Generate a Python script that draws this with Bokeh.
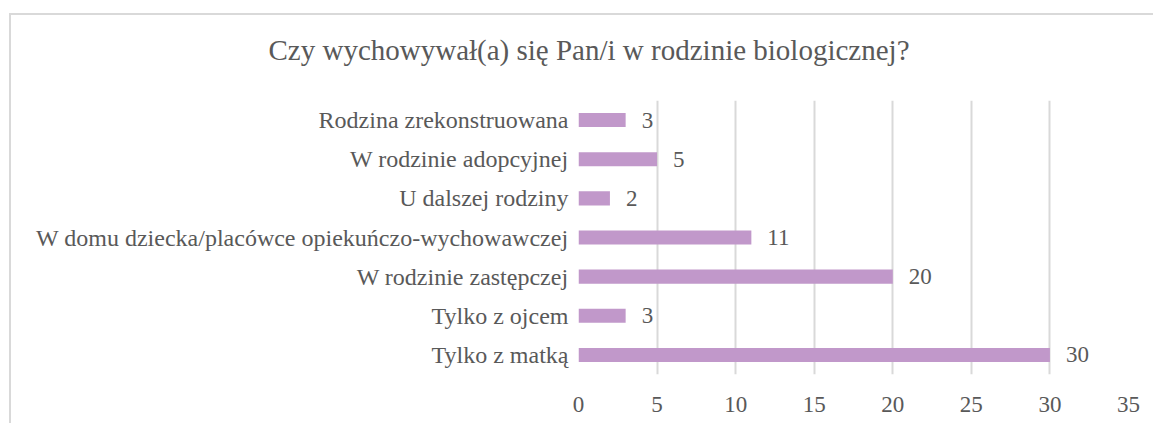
from bokeh.plotting import figure
from bokeh.models import ColumnDataSource, LabelSet, FixedTicker, Title
from bokeh.embed import file_html
from bokeh.resources import INLINE

categories = [
    "Tylko z matką",
    "Tylko z ojcem",
    "W rodzinie zastępczej",
    "W domu dziecka/placówce opiekuńczo-wychowawczej",
    "U dalszej rodziny",
    "W rodzinie adopcyjnej",
    "Rodzina zrekonstruowana",
]
values = [30, 3, 20, 11, 2, 5, 3]
x_ticks = [0, 5, 10, 15, 20, 25, 30, 35]
title_text = "Czy wychowywał(a) się Pan/i w rodzinie biologicznej?"

FONT = "Liberation Serif"
TXT = "#595959"
GRID = "#D9D9D9"
BAR = "#C198CA"

src = ColumnDataSource(dict(cat=categories, val=values, lab=[str(v) for v in values]))

p = figure(
    width=1144, height=410,
    y_range=categories, x_range=(0, 35),
    output_backend="svg", toolbar_location=None,
    min_border_left=567, min_border_right=27, min_border_top=85, min_border_bottom=51,
)
p.styles = {
    "border-top": "2px solid #D9D9D9",
    "border-left": "2px solid #D9D9D9",
    "margin-left": "9px",
    "margin-top": "13px",
}
p.outline_line_color = None
p.background_fill_color = "white"
p.border_fill_color = "white"

p.hbar(y="cat", right="val", left=0, height=0.36, source=src,
       fill_color=BAR, line_color=None)

labels = LabelSet(x="val", y="cat", text="lab", source=src, x_offset=16,
                  text_align="left", text_baseline="middle",
                  text_font=FONT, text_font_size="23px", text_color=TXT)
p.add_layout(labels)

# spacer panel between the frame and the title
spacer = Title(text=" ", text_font_size="2px", text_color="white", standoff=26)
p.add_layout(spacer, "above")

p.title.text = title_text
p.title.align = "left"
p.title.offset = -310
p.title.standoff = 10
p.title.text_font = FONT
p.title.text_font_size = "29px"
p.title.text_font_style = "normal"
p.title.text_color = TXT

p.xaxis.ticker = FixedTicker(ticks=x_ticks)
p.xaxis.axis_line_color = None
p.xaxis.major_tick_line_color = None
p.xaxis.major_tick_out = 0
p.xaxis.major_tick_in = 0
p.xaxis.minor_tick_line_color = None
p.xaxis.major_label_standoff = 22
p.xaxis.major_label_text_font = FONT
p.xaxis.major_label_text_font_size = "23px"
p.xaxis.major_label_text_color = TXT

p.yaxis.axis_line_color = None
p.yaxis.major_tick_line_color = None
p.yaxis.major_tick_out = 0
p.yaxis.major_tick_in = 0
p.yaxis.minor_tick_line_color = None
p.yaxis.major_label_standoff = 10
p.yaxis.major_label_text_font = FONT
p.yaxis.major_label_text_font_size = "24px"
p.yaxis.major_label_text_color = TXT

p.xgrid.grid_line_color = GRID
p.xgrid.grid_line_width = 2
p.ygrid.grid_line_color = None

open("out.html", "w").write(file_html(p, INLINE))
